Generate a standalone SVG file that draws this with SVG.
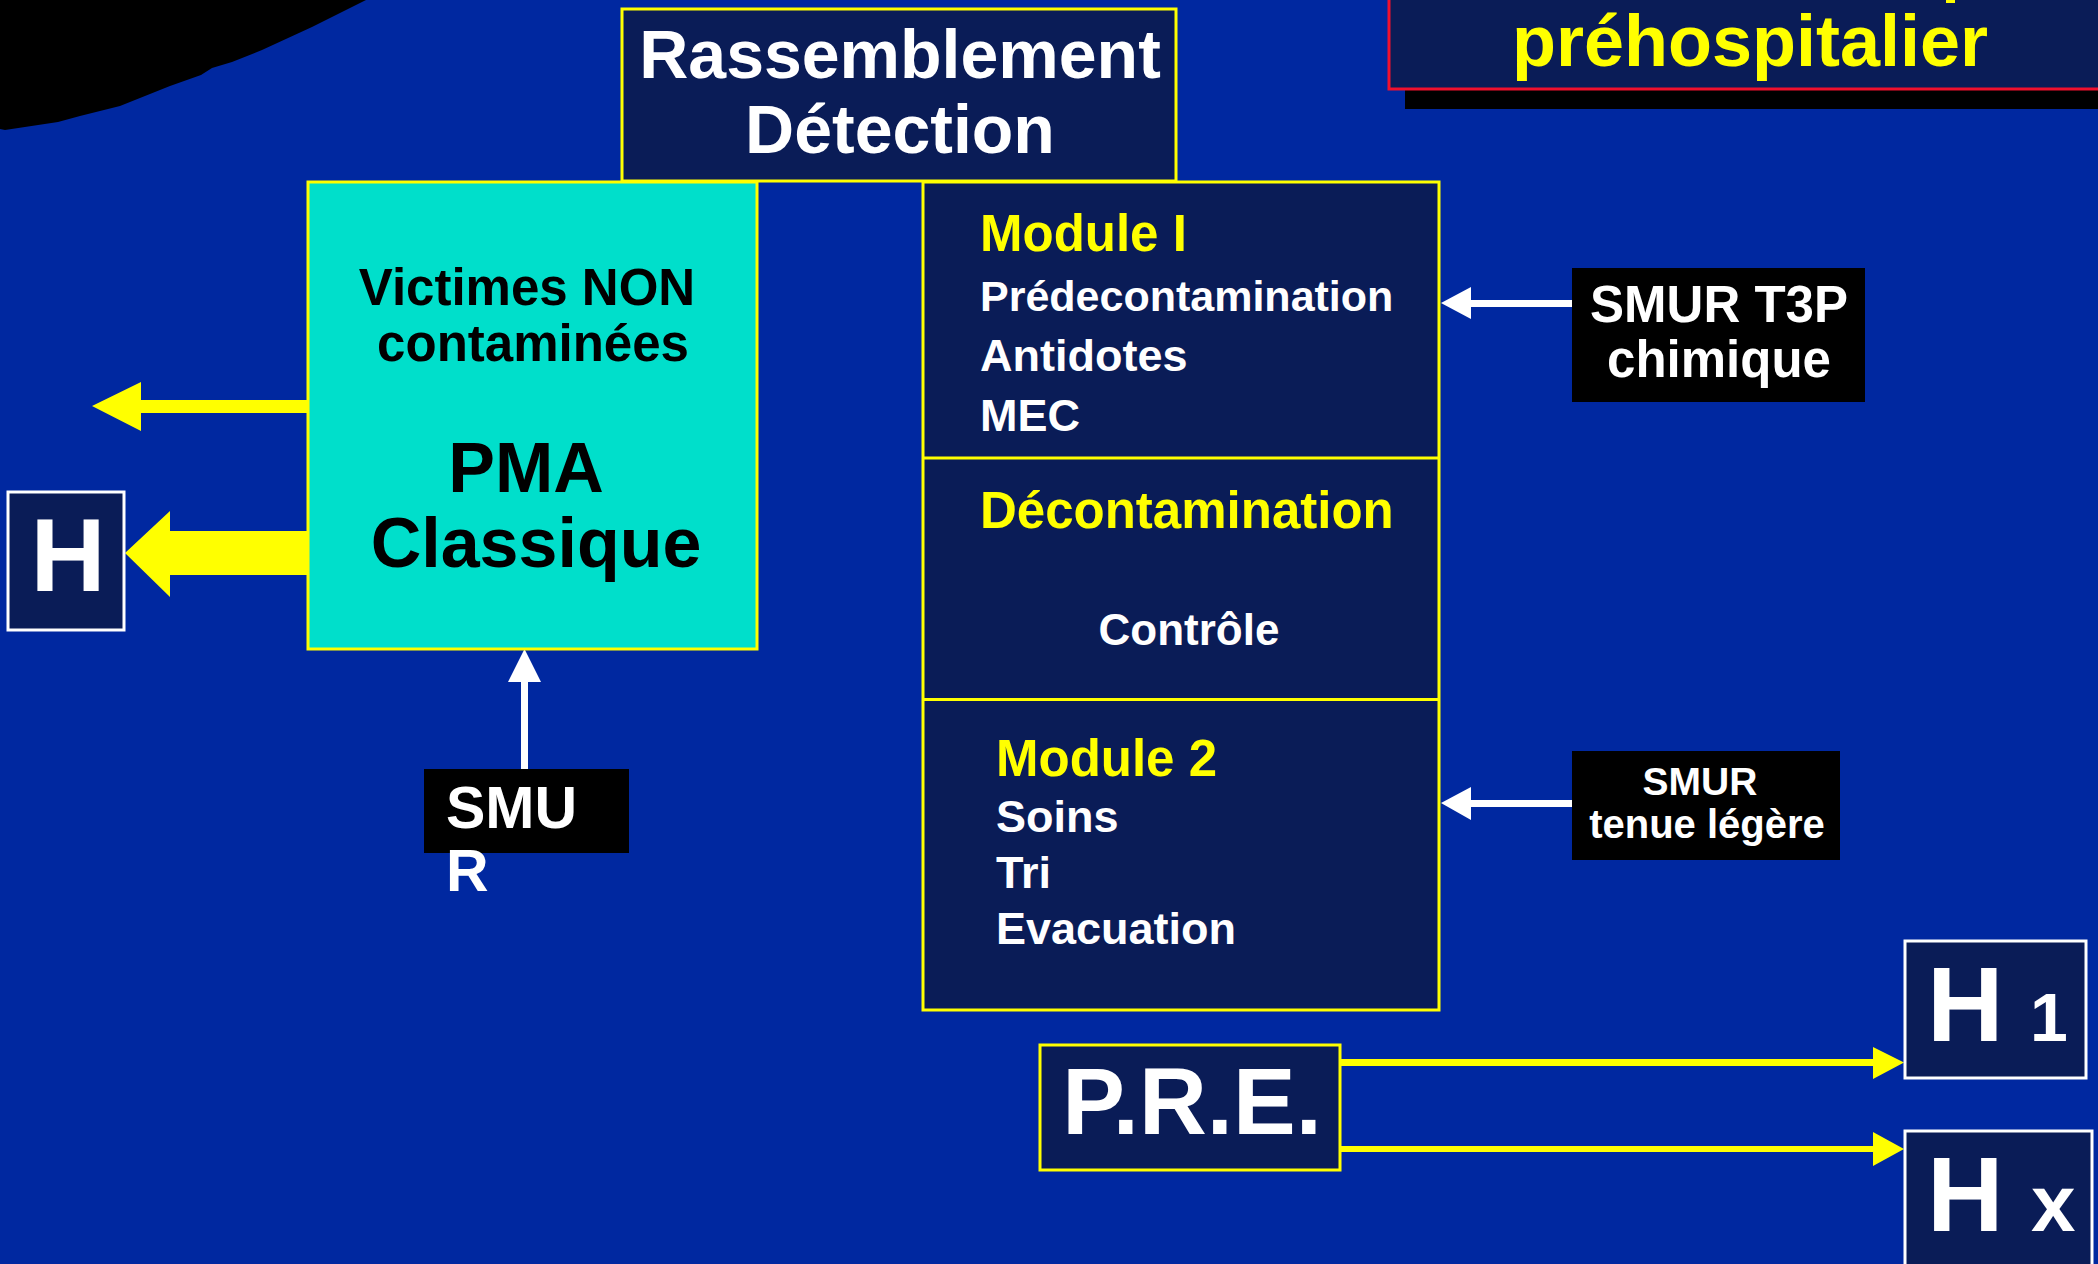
<svg xmlns="http://www.w3.org/2000/svg" width="2098" height="1264" viewBox="0 0 2098 1264">
<style>
text{font-family:"Liberation Sans",Arial,sans-serif;font-weight:bold}
.navy{fill:#0A1C57}
.ybox{stroke:#FFFF00;stroke-width:3}
.wbox{stroke:#FFFFFF;stroke-width:3}
.blk{fill:#000000}
.w{fill:#FFFFFF}
.y{fill:#FFFF00}
.k{fill:#000000}
.ya{fill:#FFFF00}
.wa{fill:#FFFFFF}
</style>
<rect x="0" y="0" width="2098" height="1264" fill="#0028A0"/>
<path d="M0,0 L366,0 L312,27 L262,50 L232,62 L212,68 L201,75 L170,86 L120,106 L80,116 L58,122 L5,130 L0,129 Z" fill="#000000"/>

<g id="title">
<rect x="1405" y="88" width="700" height="21" fill="#000000"/>
<rect x="1389" y="-10" width="720" height="99" class="navy" stroke="#F0102E" stroke-width="3"/>
<rect x="1946" y="0" width="9" height="3" fill="#FFFF00"/>
<text x="1512" y="66" font-size="72" class="y">préhospitalier</text>
</g>

<g id="connectors">
<polygon class="ya" points="308,400 141,400 141,382 92,406 141,431 141,413 308,413"/>
<polygon class="ya" points="308,531 170,531 170,511 125,553 170,597 170,575 308,575"/>
<polygon class="wa" points="1572,300 1471,300 1471,287 1441,303 1471,319 1471,307 1572,307"/>
<polygon class="wa" points="1572,800 1471,800 1471,787 1441,803 1471,820 1471,807 1572,807"/>
<polygon class="wa" points="521,769 521,682 508,682 524.5,649 541,682 528,682 528,769"/>
<polygon class="ya" points="1340,1059 1873,1059 1873,1047 1904,1062.5 1873,1079 1873,1066 1340,1066"/>
<polygon class="ya" points="1340,1146 1873,1146 1873,1132 1904,1149 1873,1166 1873,1152 1340,1152"/>
</g>

<g id="rassemblement">
<rect x="622" y="9" width="554" height="172" class="navy ybox"/>
<text x="900" y="78" font-size="68" class="w" text-anchor="middle">Rassemblement</text>
<text x="900" y="153" font-size="68" class="w" text-anchor="middle">Détection</text>
</g>

<g id="pma">
<rect x="308" y="182" width="449" height="467" fill="#00DFCB" class="ybox"/>
<text x="527" y="305" font-size="51" class="k" text-anchor="middle">Victimes NON</text>
<text x="533" y="361" font-size="51" class="k" text-anchor="middle">contaminées</text>
<text x="526" y="492" font-size="70" class="k" text-anchor="middle">PMA</text>
<text x="536" y="567" font-size="70" class="k" text-anchor="middle">Classique</text>
</g>

<g id="module">
<rect x="923" y="182" width="516" height="828" class="navy ybox"/>
<line x1="923" y1="458" x2="1439" y2="458" stroke="#FFFF00" stroke-width="3"/>
<line x1="923" y1="699.5" x2="1439" y2="699.5" stroke="#FFFF00" stroke-width="3"/>
<text x="980" y="251" font-size="51" class="y">Module I</text>
<text x="980" y="311" font-size="43" class="w">Prédecontamination</text>
<text x="980" y="371" font-size="45" class="w">Antidotes</text>
<text x="980" y="431" font-size="45" class="w">MEC</text>
<text x="980" y="528" font-size="51" class="y">Décontamination</text>
<text x="1189" y="645" font-size="44" class="w" text-anchor="middle">Contrôle</text>
<text x="996" y="776" font-size="51" class="y">Module 2</text>
<text x="996" y="832" font-size="45" class="w">Soins</text>
<text x="996" y="888" font-size="45" class="w">Tri</text>
<text x="996" y="944" font-size="45" class="w">Evacuation</text>
</g>

<g id="smur-t3p">
<rect x="1572" y="268" width="293" height="134" class="blk"/>
<text x="1719" y="322" font-size="51" class="w" text-anchor="middle">SMUR T3P</text>
<text x="1719" y="377" font-size="51" class="w" text-anchor="middle">chimique</text>
</g>

<g id="smur-legere">
<rect x="1572" y="751" width="268" height="109" class="blk"/>
<text x="1700" y="795" font-size="39" class="w" text-anchor="middle">SMUR</text>
<text x="1707" y="838" font-size="40" class="w" text-anchor="middle">tenue légère</text>
</g>

<g id="smur">
<rect x="424" y="769" width="205" height="84" class="blk"/>
<text x="446" y="828" font-size="59" class="w">SMU</text>
<text x="446" y="891" font-size="59" class="w">R</text>
</g>

<g id="h-left">
<rect x="8" y="492" width="116" height="138" class="navy wbox"/>
<text x="68" y="591" font-size="104" class="w" text-anchor="middle">H</text>
</g>

<g id="pre">
<rect x="1040" y="1045" width="300" height="125" class="navy ybox"/>
<text x="1192" y="1134" font-size="94" class="w" text-anchor="middle">P.R.E.</text>
</g>

<g id="h1">
<rect x="1905" y="941" width="181" height="137" class="navy wbox"/>
<text x="1927" y="1041" font-size="106" class="w">H</text>
<text x="2030" y="1041" font-size="68" class="w">1</text>
</g>

<g id="hx">
<rect x="1905" y="1131" width="187" height="150" class="navy wbox"/>
<text x="1927" y="1231" font-size="106" class="w">H</text>
<text x="2031" y="1231" font-size="80" class="w">x</text>
</g>
</svg>
